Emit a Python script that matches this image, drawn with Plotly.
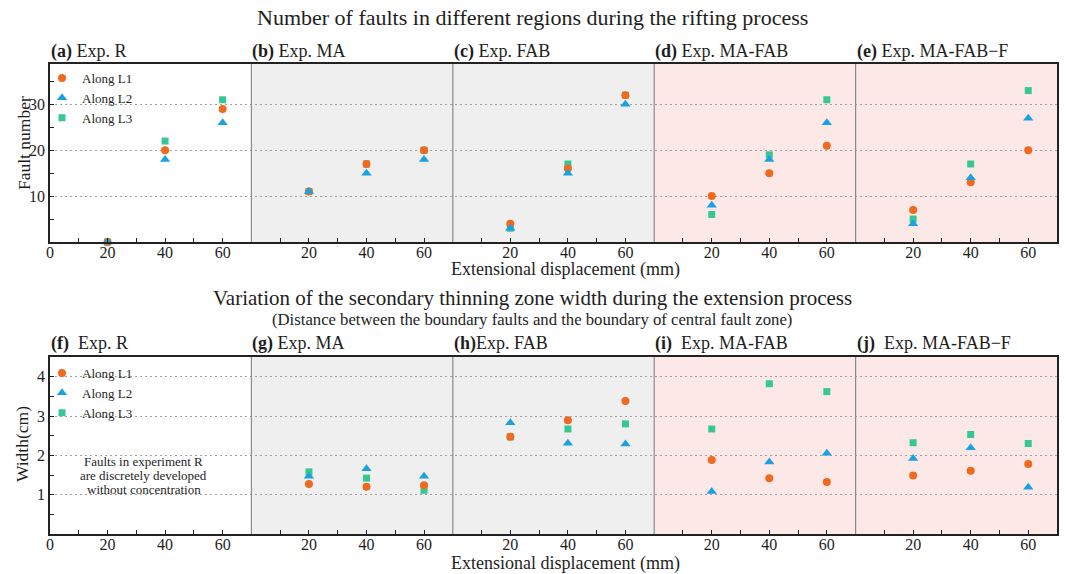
import plotly.graph_objects as go

# ---------------- data ----------------
DISPLACEMENT = [20, 40, 60]
TICK_LABELS = ["20", "40", "60"]
PANEL_WIDTH = 70  # mm of axis per experiment panel

TOP_PANELS = ["<b>(a)</b> Exp. R", "<b>(b)</b> Exp. MA", "<b>(c)</b> Exp. FAB",
              "<b>(d)</b> Exp. MA-FAB", "<b>(e)</b> Exp. MA-FAB−F"]
BOTTOM_PANELS = ["<b>(f)</b>  Exp. R", "<b>(g)</b> Exp. MA", "<b>(h)</b>Exp. FAB",
                 "<b>(i)</b>  Exp. MA-FAB", "<b>(j)</b>  Exp. MA-FAB−F"]

FAULT_L1 = [[0, 20, 29], [11, 17, 20], [4, 16, 32], [10, 15, 21], [7, 13, 20]]
FAULT_L2 = [[0, 18, 26], [11, 15, 18], [3, 15, 30], [8, 18, 26], [4, 14, 27]]
FAULT_L3 = [[0, 22, 31], [11, 17, 20], [3, 17, 32], [6, 19, 31], [5, 17, 33]]

WIDTH_L1 = [[None, None, None], [1.27, 1.20, 1.24], [2.47, 2.89, 3.38], [1.88, 1.42, 1.32], [1.49, 1.61, 1.78]]
WIDTH_L2 = [[None, None, None], [1.47, 1.66, 1.47], [2.83, 2.31, 2.29], [1.08, 1.83, 2.05], [1.92, 2.19, 1.19]]
WIDTH_L3 = [[None, None, None], [1.58, 1.42, 1.11], [2.47, 2.67, 2.80], [2.67, 3.82, 3.62], [2.32, 2.53, 2.30]]

SERIES_NAMES = ["Along L1", "Along L2", "Along L3"]
NOTE_R = ["Faults in experiment R", "are discretely developed", "without concentration"]

# ---------------- style ----------------
FONT = "Liberation Serif, DejaVu Serif, serif"
TXT = "#1e1e1e"
COLORS = ["#EF6A1E", "#1BA1E2", "#36C893"]
SYMBOLS = ["circle", "triangle-up", "square"]
SIZES = [8, 9, 7]
PANEL_BG = ["rgba(0,0,0,0)", "#EFEFEF", "#EFEFEF", "#FDE8E8", "#FDE8E8"]

W, H = 1066, 574
ML, MR, MT, MB = 50, 7, 64, 40
PW, PH = W - ML - MR, H - MT - MB


def px_x(px):
    return (px - ML) / PW


def px_y(py):
    return (H - MB - py) / PH


n_panels = len(TOP_PANELS)
xs = [PANEL_WIDTH * p + d for p in range(n_panels) for d in DISPLACEMENT]


def flat(v):
    return [y for panel in v for y in panel]


fig = go.Figure()
# draw order: L3 (bottom), L1, L2 (top)
order = [2, 0, 1]
for row, (series, lg, xa, ya) in enumerate([
        ([FAULT_L1, FAULT_L2, FAULT_L3], "legend", "x", "y"),
        ([WIDTH_L1, WIDTH_L2, WIDTH_L3], "legend2", "x2", "y2")]):
    for i in order:
        fig.add_trace(go.Scatter(
            x=xs, y=flat(series[i]), mode="markers", name=SERIES_NAMES[i],
            marker=dict(symbol=SYMBOLS[i], size=SIZES[i], color=COLORS[i], line=dict(width=0)),
            xaxis=xa, yaxis=ya, legend=lg, legendrank=i + 1, cliponaxis=False,
        ))

tickvals = [0] + xs
ticktext = ["0"] + TICK_LABELS * n_panels
minor_vals = [PANEL_WIDTH * p + d for p in range(n_panels) for d in (10, 30, 50)]

xcommon = dict(range=[0, PANEL_WIDTH * n_panels], tickvals=tickvals, ticktext=ticktext,
               ticks="inside", ticklen=4, tickwidth=1, tickcolor="#222",
               showline=True, mirror=True, linecolor="#222", linewidth=1.5,
               showgrid=False, zeroline=False, ticklabelstandoff=-5,
               tickfont=dict(family=FONT, size=16, color=TXT),
               minor=dict(tickvals=minor_vals, ticks="inside", ticklen=4, tickcolor="#222", showgrid=False))
ycommon = dict(ticks="inside", ticklen=4, tickwidth=1, tickcolor="#222",
               showline=True, mirror=True, linecolor="#222", linewidth=1.5,
               showgrid=True, gridcolor="#A0A0A0", griddash="2px,3px", gridwidth=1, zeroline=False,
               tickfont=dict(family=FONT, size=16, color=TXT))

top_y0 = px_y(242)
bot_y1 = px_y(357)

fig.update_layout(
    width=W, height=H, margin=dict(l=ML, r=MR, t=MT, b=MB),
    paper_bgcolor="white", plot_bgcolor="white",
    font=dict(family=FONT, color=TXT),
    xaxis=dict(domain=[0, 1], anchor="y", **xcommon),
    yaxis=dict(domain=[top_y0, 1], anchor="x", range=[0, 38.8], tickvals=[10, 20, 30],
               minor=dict(tickvals=[5, 15, 25, 35], ticks="inside", ticklen=4, tickcolor="#222", showgrid=False),
               **ycommon),
    xaxis2=dict(domain=[0, 1], anchor="y2", **xcommon),
    yaxis2=dict(domain=[0, bot_y1], anchor="x2", range=[0, 4.5], tickvals=[1, 2, 3, 4],
                minor=dict(tickvals=[0.5, 1.5, 2.5, 3.5], ticks="inside", ticklen=4, tickcolor="#222", showgrid=False),
                **ycommon),
    legend=dict(x=px_x(42), y=px_y(63), xanchor="left", yanchor="top", bgcolor="rgba(0,0,0,0)",
                borderwidth=0, font=dict(family=FONT, size=13, color=TXT), tracegroupgap=0),
    legend2=dict(x=px_x(42), y=px_y(358), xanchor="left", yanchor="top", bgcolor="rgba(0,0,0,0)",
                 borderwidth=0, font=dict(family=FONT, size=13, color=TXT), tracegroupgap=0),
    showlegend=True,
)

shapes = []
for xr, yr in (("x", "y domain"), ("x2", "y2 domain")):
    for p in range(n_panels):
        shapes.append(dict(type="rect", xref=xr, yref=yr, x0=PANEL_WIDTH * p, x1=PANEL_WIDTH * (p + 1),
                           y0=0, y1=1, fillcolor=PANEL_BG[p], line=dict(width=0), layer="below"))
    for p in range(1, n_panels):
        shapes.append(dict(type="line", xref=xr, yref=yr, x0=PANEL_WIDTH * p, x1=PANEL_WIDTH * p,
                           y0=0, y1=1, line=dict(color="#8A8A8A", width=1.2), layer="above"))
fig.update_layout(shapes=shapes)

ann = []


def text(x, y, t, size, xref="paper", xanchor="center", textangle=0, xshift=0):
    ann.append(dict(x=x, y=y, xref=xref, yref="paper", text=t, showarrow=False,
                    xanchor=xanchor, yanchor="middle", textangle=textangle, xshift=xshift,
                    font=dict(family=FONT, size=size, color=TXT)))


text(px_x(533), px_y(18), "Number of faults in different regions during the rifting process", 22)
text(px_x(533), px_y(298), "Variation of the secondary thinning zone width during the extension process", 21)
text(px_x(533), px_y(319), "(Distance between the boundary faults and the boundary of central fault zone)", 16.7)
for p in range(n_panels):
    text(PANEL_WIDTH * p, px_y(52), TOP_PANELS[p], 18, xref="x", xanchor="left", xshift=-1)
    text(PANEL_WIDTH * p, px_y(343), BOTTOM_PANELS[p], 18, xref="x2", xanchor="left", xshift=-1)
text(px_x(567), px_y(269), "Extensional displacement (mm)", 18)
text(px_x(567), px_y(563), "Extensional displacement (mm)", 18)
text(px_x(24), px_y(143), "Fault number", 17.5, textangle=-90)
text(px_x(22), px_y(444), "Width(cm)", 17.5, textangle=-90)
for k, line in enumerate(NOTE_R):
    text(px_x(144), px_y(461 + 14 * k), line, 13)
fig.update_layout(annotations=ann)

fig.write_html("out.html")
